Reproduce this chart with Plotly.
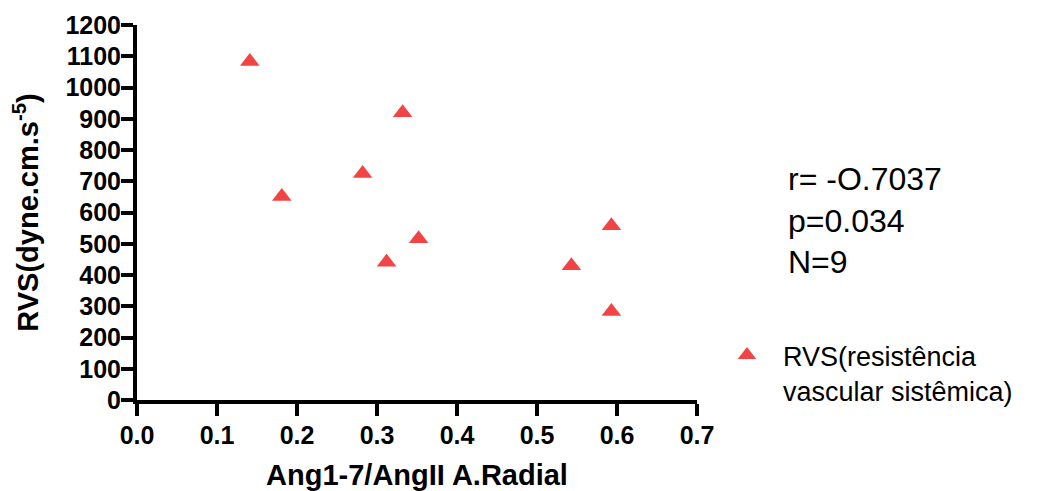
import plotly.graph_objects as go

# Data
ratio_x = [0.141, 0.181, 0.282, 0.312, 0.332, 0.352, 0.543, 0.593, 0.593]
rvs_y = [1083, 651, 725, 441, 919, 516, 430, 558, 283]
series_name = "RVS(resistência<br>vascular sistêmica)"
stats_text = "r= -O.7037<br>p=0.034<br>N=9"
x_ticks = [0.0, 0.1, 0.2, 0.3, 0.4, 0.5, 0.6, 0.7]
x_tick_labels = ["0.0", "0.1", "0.2", "0.3", "0.4", "0.5", "0.6", "0.7"]
y_ticks = list(range(0, 1300, 100))

FONT = "Liberation Sans, Arial, sans-serif"
RED = "#F24444"

# page body has an 8px margin: compensate so the plot lands on reference pixels
OFF = 8
W, H = 1044 - OFF, 491 - OFF
L, T = 137 - OFF, 25 - OFF
PW, PH = 560, 375

def px_x(px):
    return (px - 137) / PW

def px_y(py):
    return (400 - py) / PH

fig = go.Figure()
fig.add_trace(go.Scatter(
    x=ratio_x, y=rvs_y, mode="markers", name=series_name,
    marker=dict(symbol="triangle-up", size=17, color=RED, line=dict(width=0)),
))

axis_common = dict(
    showline=True, linewidth=4, linecolor="black", mirror=False,
    ticks="outside", ticklen=12, tickwidth=4, tickcolor="black",
    showgrid=False, zeroline=False,
    tickfont=dict(family=FONT, size=25, color="black", weight="bold"),
)

fig.update_layout(
    width=W, height=H,
    paper_bgcolor="white", plot_bgcolor="white",
    margin=dict(l=L, r=W - L - PW, t=T, b=H - T - PH, autoexpand=False),
    font=dict(family=FONT, color="black"),
    xaxis=dict(
        range=[0, 0.7], tickvals=x_ticks, ticktext=x_tick_labels,
        ticklabelstandoff=-2,
        title=dict(text="Ang1-7/AngII A.Radial", standoff=18,
                   font=dict(family=FONT, size=29, color="black", weight="bold")),
        automargin=False, **axis_common,
    ),
    yaxis=dict(
        range=[0, 1200], tickvals=y_ticks,
        ticklabelstandoff=-5,
        title=dict(text="RVS(dyne.cm.s<sup>-5</sup>)", standoff=19,
                   font=dict(family=FONT, size=29, color="black", weight="bold")),
        automargin=False, **axis_common,
    ),
    showlegend=True,
    legend=dict(
        x=px_x(711), y=px_y(331), xanchor="left", yanchor="top",
        valign="top", itemwidth=62,
        font=dict(family=FONT, size=27, color="black"),
        bgcolor="rgba(0,0,0,0)", borderwidth=0,
    ),
)

fig.add_annotation(
    xref="paper", yref="paper",
    x=px_x(786), y=px_y(159),
    xanchor="left", yanchor="top", align="left", showarrow=False,
    text=stats_text,
    font=dict(family=FONT, size=32, color="black"),
)

fig.write_html("out.html")
